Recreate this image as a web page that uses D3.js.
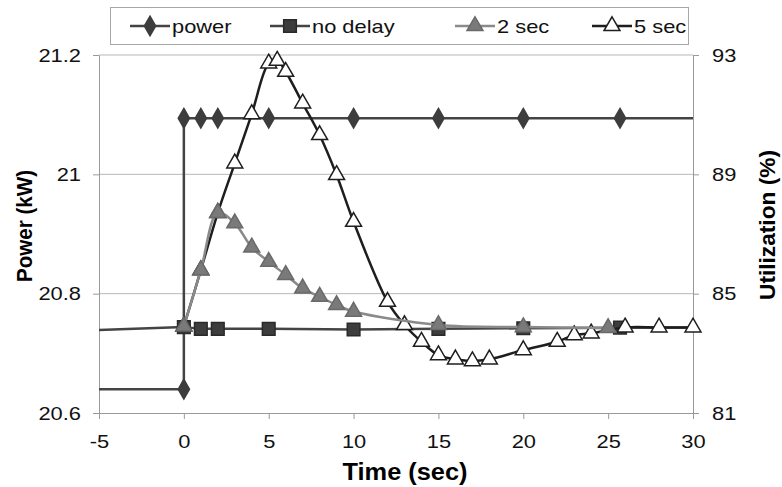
<!DOCTYPE html>
<html>
<head>
<meta charset="utf-8">
<script src="https://cdn.jsdelivr.net/npm/d3@7"></script>
<style>
  body { margin: 0; background: #fff; }
  svg { font-family: "Liberation Sans", Arial, sans-serif; }
</style>
</head>
<body>
<svg id="chart" width="782" height="487"></svg>
<script>
// time axis ticks and value axis ticks
const timeTicks = [-5, 0, 5, 10, 15, 20, 25, 30];
const powerTicks = [20.6, 20.8, 21.0, 21.2];
const utilTicks = [81, 85, 89, 93];

// power (kW, left axis) - step at t = 0
const powerTime = [-5, 0, 0, 1, 2, 5, 10, 15, 20, 25.7, 30];
const powerValue = [20.64, 20.64, 21.094, 21.094, 21.094, 21.094, 21.094, 21.094, 21.094, 21.094, 21.094];
const powerMarked = [0, 1, 1, 1, 1, 1, 1, 1, 1, 1, 0];

// utilization (%, right axis)
const noDelayTime = [-5, 0, 1, 2, 5, 10, 15, 20, 25.7, 30];
const noDelayValue = [83.78, 83.88, 83.82, 83.82, 83.82, 83.8, 83.82, 83.84, 83.86, 83.87];
const noDelayMarked = [0, 1, 1, 1, 1, 1, 1, 1, 1, 0];

const twoSecTime = [0, 1, 2, 3, 4, 5, 6, 7, 8, 9, 10, 15, 20, 25];
const twoSecValue = [83.9, 85.79, 87.71, 87.36, 86.55, 86.07, 85.63, 85.18, 84.9, 84.62, 84.4, 83.95, 83.88, 83.85];

const fiveSecTime = [0, 1, 2, 3, 4, 5, 5.5, 6, 7, 8, 9, 10, 12, 13, 14, 15, 16, 17, 18, 20, 22, 23, 24, 26, 28, 30];
const fiveSecValue = [83.9, 85.79, 87.71, 89.37, 91.02, 92.72, 92.81, 92.44, 91.38, 90.32, 88.98, 87.41,
                      84.73, 83.95, 83.39, 82.94, 82.8, 82.74, 82.8, 83.11, 83.39, 83.61, 83.67, 83.87, 83.87, 83.87];

const legendNames = ["power", "no delay", "2 sec", "5 sec"];

const svg = d3.select("#chart");
const margin = {left: 99, right: 89, top: 55, bottom: 74};
const width = 782 - margin.left - margin.right;
const height = 487 - margin.top - margin.bottom;

// the original text is a bit wider than Liberation Sans
const stretch = 1.15;
function widen(sel) {
    sel.each(function () {
        const w = this.getComputedTextLength();
        d3.select(this).attr("textLength", w * stretch).attr("lengthAdjust", "spacingAndGlyphs");
    });
}

const x = d3.scaleLinear().domain([-5, 30]).range([margin.left, margin.left + width]);
const yL = d3.scaleLinear().domain([20.6, 21.2]).range([margin.top + height, margin.top]);
const yR = d3.scaleLinear().domain([81, 93]).range([margin.top + height, margin.top]);

// gridlines
svg.append("g")
    .selectAll("line")
    .data(powerTicks.slice(1))
    .join("line")
    .attr("x1", margin.left).attr("x2", margin.left + width)
    .attr("y1", d => yL(d)).attr("y2", d => yL(d))
    .attr("stroke", "#b8b8b8").attr("stroke-width", 1);

// axes
function styleAxis(g) {
    g.select(".domain").attr("stroke", "#9a9a9a");
    g.selectAll(".tick line").attr("stroke", "#9a9a9a");
    g.selectAll(".tick text").attr("fill", "#111").style("font-size", "19px").call(widen);
}
svg.append("g")
    .attr("transform", `translate(0,${margin.top + height})`)
    .call(d3.axisBottom(x).tickValues(timeTicks).tickFormat(d => String(d)).tickSize(6).tickSizeOuter(0).tickPadding(16))
    .call(styleAxis);
svg.append("g")
    .attr("transform", `translate(${margin.left},0)`)
    .call(d3.axisLeft(yL).tickValues(powerTicks).tickFormat(d => String(d)).tickSize(6).tickSizeOuter(0).tickPadding(12))
    .call(styleAxis);
svg.append("g")
    .attr("transform", `translate(${margin.left + width},0)`)
    .call(d3.axisRight(yR).tickValues(utilTicks).tickSize(6).tickSizeOuter(0).tickPadding(13))
    .call(styleAxis);

// axis titles
svg.append("text")
    .attr("x", 405).attr("y", 480)
    .attr("text-anchor", "middle")
    .attr("textLength", 125).attr("lengthAdjust", "spacingAndGlyphs")
    .style("font-size", "23px").style("font-weight", "bold")
    .text("Time (sec)");
svg.append("text")
    .attr("transform", "translate(32,226) rotate(-90)")
    .attr("text-anchor", "middle")
    .attr("textLength", 112).attr("lengthAdjust", "spacingAndGlyphs")
    .style("font-size", "22px").style("font-weight", "bold")
    .text("Power (kW)");
svg.append("text")
    .attr("transform", "translate(775,225) rotate(-90)")
    .attr("text-anchor", "middle")
    .attr("textLength", 150).attr("lengthAdjust", "spacingAndGlyphs")
    .style("font-size", "22px").style("font-weight", "bold")
    .text("Utilization (%)");

// series helpers
const sym = {
    diamond: d3.symbol().type(d3.symbolDiamond).size(110),
    square: d3.symbol().type(d3.symbolSquare).size(160),
    triangle: d3.symbol().type(d3.symbolTriangle).size(110)
};

function drawSeries(times, values, yScale, curve, lineColor, marked, shape, fill, stroke) {
    const pts = times.map((t, i) => ({t: t, v: values[i], m: marked ? marked[i] : 1}));
    const line = d3.line().x(d => x(d.t)).y(d => yScale(d.v)).curve(curve);
    svg.append("path")
        .datum(pts)
        .attr("d", line)
        .attr("fill", "none")
        .attr("stroke", lineColor)
        .attr("stroke-width", 2.5);
    svg.append("g")
        .selectAll("path")
        .data(pts.filter(d => d.m))
        .join("path")
        .attr("d", sym[shape])
        .attr("transform", d => `translate(${x(d.t)},${yScale(d.v)})`)
        .attr("fill", fill)
        .attr("stroke", stroke)
        .attr("stroke-width", 1.5);
}

drawSeries(powerTime, powerValue, yL, d3.curveLinear, "#444", powerMarked, "diamond", "#3d3d3d", "#3d3d3d");
drawSeries(noDelayTime, noDelayValue, yR, d3.curveLinear, "#444", noDelayMarked, "square", "#3d3d3d", "#2a2a2a");
drawSeries(fiveSecTime, fiveSecValue, yR, d3.curveCatmullRom, "#1e1e1e", null, "triangle", "#fff", "#1e1e1e");
drawSeries(twoSecTime, twoSecValue, yR, d3.curveCatmullRom, "#8a8a8a", null, "triangle", "#7a7a7a", "#6a6a6a");

// legend
const lg = svg.append("g");
lg.append("rect")
    .attr("x", 110.5).attr("y", 7.5).attr("width", 578).attr("height", 37)
    .attr("fill", "#fff").attr("stroke", "#a8a8a8");
const legendX = [150, 290, 475, 612];
const legendStyle = [
    {shape: "diamond", line: "#444", fill: "#3d3d3d", stroke: "#3d3d3d"},
    {shape: "square", line: "#444", fill: "#3d3d3d", stroke: "#2a2a2a"},
    {shape: "triangle", line: "#8a8a8a", fill: "#7a7a7a", stroke: "#6a6a6a"},
    {shape: "triangle", line: "#1e1e1e", fill: "#fff", stroke: "#1e1e1e"}
];
legendNames.forEach((name, i) => {
    const cx = legendX[i], cy = 26;
    const st = legendStyle[i];
    lg.append("line")
        .attr("x1", cx - 20).attr("x2", cx + 20)
        .attr("y1", cy).attr("y2", cy)
        .attr("stroke", st.line).attr("stroke-width", 2.5);
    lg.append("path")
        .attr("d", sym[st.shape])
        .attr("transform", `translate(${cx},${cy})`)
        .attr("fill", st.fill).attr("stroke", st.stroke).attr("stroke-width", 1.5);
    lg.append("text")
        .attr("x", cx + 22).attr("y", cy + 7)
        .style("font-size", "19px").attr("fill", "#111")
        .text(name)
        .call(widen);
});
</script>
</body>
</html>
